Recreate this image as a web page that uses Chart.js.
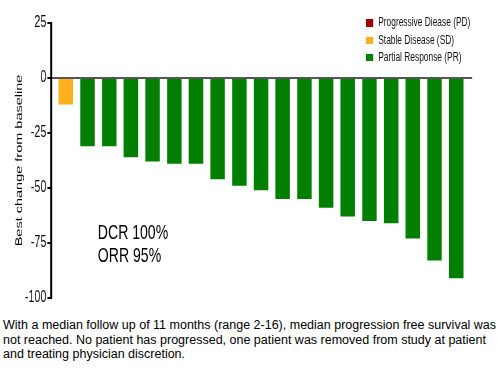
<!DOCTYPE html>
<html>
<head>
<meta charset="utf-8">
<script src="https://cdn.jsdelivr.net/npm/chart.js@4/dist/chart.umd.min.js"></script>
<style>
  html, body { margin: 0; padding: 0; background: #fff; }
  body { width: 499px; height: 370px; position: relative; overflow: hidden; font-family: 'Liberation Sans', Arial, sans-serif; }
  #wrap { position: absolute; left: 0; top: 0; width: 745px; height: 312px; transform: scaleX(0.67); transform-origin: 0 0; }
  #c { position: absolute; left: 0; top: 0; }
  #legend { position: absolute; left: 546px; top: 14.3px; font-size: 12.5px; color: #111; }
  .row { position: relative; height: 17.3px; line-height: 17.3px; white-space: nowrap; }
  .sw { position: absolute; left: 0; top: 5px; width: 11px; height: 7.5px; }
  .lt { position: absolute; left: 18.5px; top: 0; }
  #stats { position: absolute; left: 146px; top: 221.4px; font-size: 21px; line-height: 22.7px; color: #000; white-space: nowrap; }
  #caption { position: absolute; left: 3px; top: 318.3px; font-size: 12.5px; line-height: 14.5px; color: #000; white-space: nowrap; }
</style>
</head>
<body>
<div id="wrap">
  <canvas id="c" width="745" height="312"></canvas>
  <div id="legend"></div>
  <div id="stats"></div>
</div>
<div id="caption"></div>
<script>
// ---- data ----
const patients = [1, 2, 3, 4, 5, 6, 7, 8, 9, 10, 11, 12, 13, 14, 15, 16, 17, 18, 19];
const bestChange = [-12, -31, -31, -36, -38, -39, -39, -46, -49, -51, -55, -55, -59, -63, -65, -66, -73, -83, -91];
const response = ['SD', 'PR', 'PR', 'PR', 'PR', 'PR', 'PR', 'PR', 'PR', 'PR', 'PR', 'PR', 'PR', 'PR', 'PR', 'PR', 'PR', 'PR', 'PR'];
const responseCodes = ['PD', 'SD', 'PR'];
const responseLabels = ['Progressive Diease (PD)', 'Stable Disease (SD)', 'Partial Response (PR)'];
const yTicks = [25, 0, -25, -50, -75, -100];
const yTitle = 'Best change from baseline';
const statLines = ['DCR 100%', 'ORR 95%'];
const captionLines = [
  'With a median follow up of 11 months (range 2-16), median progression free survival was',
  'not reached. No patient has progressed, one patient was removed from study at patient',
  'and treating physician discretion.'
];

// ---- styles ----
const responseColors = { PD: '#A00000', SD: '#FFB01E', PR: '#007F00' };

Chart.defaults.font.family = "'Liberation Sans', Arial, sans-serif";
Chart.defaults.color = '#000';

const datasets = responseCodes.map((code, k) => ({
  label: responseLabels[k],
  backgroundColor: responseColors[code],
  borderWidth: 0,
  data: patients
    .map((p, i) => ({ x: p, y: bestChange[i], r: response[i] }))
    .filter(d => d.r === code)
    .map(d => ({ x: d.x, y: d.y }))
}));

const chart = new Chart(document.getElementById('c'), {
  type: 'bar',
  data: { datasets },
  options: {
    responsive: false,
    animation: false,
    devicePixelRatio: 1,
    layout: { padding: { top: 23, bottom: 14, left: 0, right: 40.5 } },
    datasets: { bar: { grouped: false, barPercentage: 0.67, categoryPercentage: 1 } },
    plugins: { legend: { display: false }, tooltip: { enabled: false } },
    scales: {
      x: { type: 'linear', min: 0.331, max: 19.73, offset: false, display: false },
      y: {
        min: -100, max: 25,
        z: 1,
        afterBuildTicks: s => { s.ticks = yTicks.map(v => ({ value: v })); },
        afterFit: s => { s.width = 76.6; },
        ticks: { font: { size: 16 }, color: '#000', padding: 1.5 },
        grid: {
          drawOnChartArea: true,
          color: c => (c.tick && c.tick.value === 0 ? '#555555' : 'rgba(0,0,0,0)'),
          tickColor: '#000',
          tickLength: 6,
          lineWidth: 2
        },
        border: { display: true, color: '#000', width: 3 },
        title: { display: true, text: yTitle, font: { size: 14.5 }, color: '#000', padding: { top: 20, bottom: 0 } }
      }
    }
  }
});

// HTML legend built from chart datasets
const legend = document.getElementById('legend');
chart.data.datasets.forEach(ds => {
  const row = document.createElement('div'); row.className = 'row';
  const sw = document.createElement('span'); sw.className = 'sw'; sw.style.background = ds.backgroundColor;
  const lt = document.createElement('span'); lt.className = 'lt'; lt.textContent = ds.label;
  row.appendChild(sw); row.appendChild(lt); legend.appendChild(row);
});
document.getElementById('stats').innerHTML = statLines.join('<br>');
document.getElementById('caption').innerHTML = captionLines.join('<br>');
</script>
</body>
</html>
